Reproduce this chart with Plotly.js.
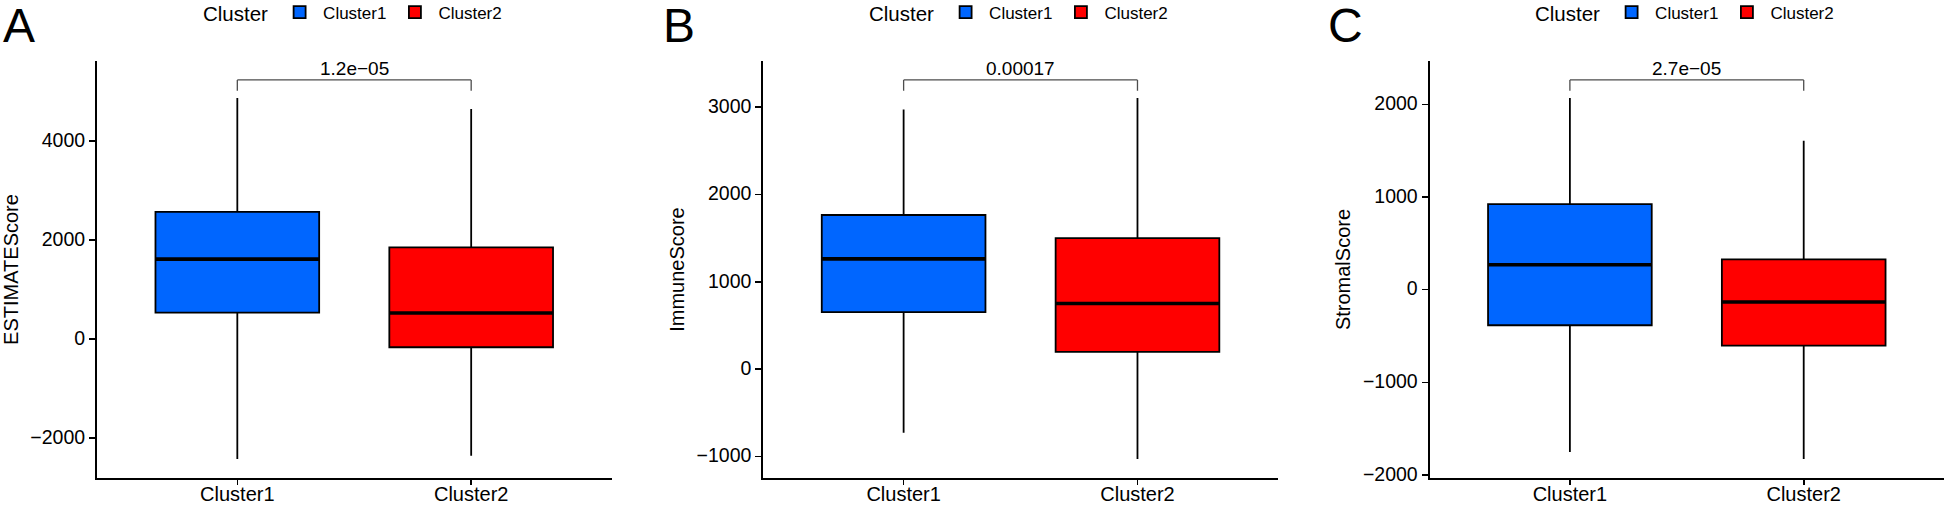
<!DOCTYPE html>
<html><head><meta charset="utf-8">
<script src="https://cdn.plot.ly/plotly-3.0.1.min.js"></script>
<style>html,body{margin:0;padding:0;background:#fff;} #chart{width:1944px;height:508px;}</style>
</head><body><div id="chart"></div>
<script>
// ---- data ----
const categories = ['Cluster1', 'Cluster2'];
const panelLetters = ['A', 'B', 'C'];
const scoreNames = ['ESTIMATEScore', 'ImmuneScore', 'StromalScore'];
const pValues = ['1.2e\u221205', '0.00017', '2.7e\u221205'];

const estimateLower  = [-2429, -2363];
const estimateQ1     = [528, -171];
const estimateMedian = [1609, 520];
const estimateQ3     = [2565, 1845];
const estimateUpper  = [4863, 4641];

const immuneLower  = [-729, -1030];
const immuneQ1     = [653, 198];
const immuneMedian = [1263, 752];
const immuneQ3     = [1766, 1500];
const immuneUpper  = [2973, 3106];

const stromalLower  = [-1752, -1828];
const stromalQ1     = [-384, -603];
const stromalMedian = [269, -134];
const stromalQ3     = [922, 326];
const stromalUpper  = [2068, 1608];

const yTickStep = [2000, 1000, 1000];

// ---- styling ----
const fills = ['#0066FF', '#FF0000'];
const FONT = 'Liberation Sans, Arial, Helvetica, sans-serif';
const W = 1944, H = 508;
const plotLeft = [97, 763.3, 1429.6];
const plotWidth = 514.5;
const plotTop = 61, plotBottom = 478;
const legendLeft = [201, 867, 1533];
const letterLeft = [1, 661, 1326];
const boxWidth = 0.7;

const panels = [
  {lower: estimateLower, q1: estimateQ1, med: estimateMedian, q3: estimateQ3, upper: estimateUpper},
  {lower: immuneLower, q1: immuneQ1, med: immuneMedian, q3: immuneQ3, upper: immuneUpper},
  {lower: stromalLower, q1: stromalQ1, med: stromalMedian, q3: stromalQ3, upper: stromalUpper}
];

const traces = [];
const shapes = [];
const annotations = [];
const layout = {
  width: W, height: H,
  margin: {l: 0, r: 0, t: 0, b: 0, autoexpand: false},
  paper_bgcolor: '#ffffff', plot_bgcolor: '#ffffff',
  boxmode: 'overlay',
  font: {family: FONT, color: '#000000'},
  showlegend: true
};

panels.forEach((p, k) => {
  const sfx = k === 0 ? '' : String(k + 1);
  const xa = 'x' + sfx, ya = 'y' + sfx;
  const legName = 'legend' + sfx;

  categories.forEach((c, i) => {
    traces.push({
      type: 'box', name: c, x: [c],
      q1: [p.q1[i]], median: [p.med[i]], q3: [p.q3[i]],
      lowerfence: [p.lower[i]], upperfence: [p.upper[i]],
      xaxis: xa, yaxis: ya, legend: legName,
      fillcolor: fills[i], line: {color: '#000000', width: 1.8},
      whiskerwidth: 0, width: boxWidth, boxpoints: false,
      hoverinfo: 'skip'
    });
    // thick median line
    shapes.push({type: 'line', xref: xa, yref: ya,
      x0: i - boxWidth / 2, x1: i + boxWidth / 2, y0: p.med[i], y1: p.med[i],
      line: {color: '#000000', width: 3.6}});
  });

  // significance bracket (ggsignif-style placement) and y range (ggplot 5% expansion)
  const hi = Math.max(...p.upper), lo = Math.min(...p.lower);
  const span = hi - lo;
  const bar = hi + 0.05 * span;
  const leg = bar - 0.03 * span;
  const full = bar - lo;
  const yr = [lo - 0.05 * full, bar + 0.05 * full];

  const br = {color: '#4d4d4d', width: 1.3};
  shapes.push({type: 'line', xref: xa, yref: ya, x0: 0, x1: 1, y0: bar, y1: bar, line: br});
  shapes.push({type: 'line', xref: xa, yref: ya, x0: 0, x1: 0, y0: leg, y1: bar, line: br});
  shapes.push({type: 'line', xref: xa, yref: ya, x0: 1, x1: 1, y0: leg, y1: bar, line: br});

  annotations.push({xref: xa, yref: ya, x: 0.5, y: bar, text: pValues[k],
    showarrow: false, xanchor: 'center', yanchor: 'bottom', yshift: -1,
    font: {family: FONT, size: 19, color: '#000000'}});

  annotations.push({xref: 'paper', yref: 'paper', x: letterLeft[k] / W, y: 1.005,
    text: panelLetters[k], showarrow: false, xanchor: 'left', yanchor: 'top',
    font: {family: FONT, size: 48, color: '#000000'}});

  const dom = [plotLeft[k] / W, (plotLeft[k] + plotWidth) / W];
  layout['xaxis' + sfx] = {
    domain: dom, anchor: ya, type: 'category', range: [-0.6, 1.6],
    showline: true, linecolor: '#000000', linewidth: 2,
    ticks: 'outside', ticklen: 5, tickwidth: 1.6, tickcolor: '#000000',
    ticklabelstandoff: -8,
    showgrid: false, zeroline: false,
    tickfont: {family: FONT, size: 20, color: '#000000'}
  };
  layout['yaxis' + sfx] = {
    domain: [1 - plotBottom / H, 1 - plotTop / H], anchor: xa,
    range: yr, dtick: yTickStep[k], tick0: 0,
    showline: true, linecolor: '#000000', linewidth: 2,
    ticks: 'outside', ticklen: 6, tickwidth: 1.6, tickcolor: '#000000',
    ticklabelshift: -1,
    showgrid: false, zeroline: false,
    tickfont: {family: FONT, size: 19.5, color: '#000000'},
    title: {text: scoreNames[k], font: {family: FONT, size: 20, color: '#000000'}, standoff: 7}
  };
  layout[legName] = {
    orientation: 'h', x: legendLeft[k] / W, y: 1 - 13 / H,
    xanchor: 'left', yanchor: 'middle', bgcolor: 'rgba(0,0,0,0)',
    traceorder: 'normal', itemwidth: 37,
    title: {text: 'Cluster', side: 'left', font: {family: FONT, size: 20.5, color: '#000000'}},
    font: {family: FONT, size: 17, color: '#000000'}
  };
});

layout.shapes = shapes;
layout.annotations = annotations;

Plotly.newPlot('chart', traces, layout, {displayModeBar: false, staticPlot: true});
</script>
</body></html>
